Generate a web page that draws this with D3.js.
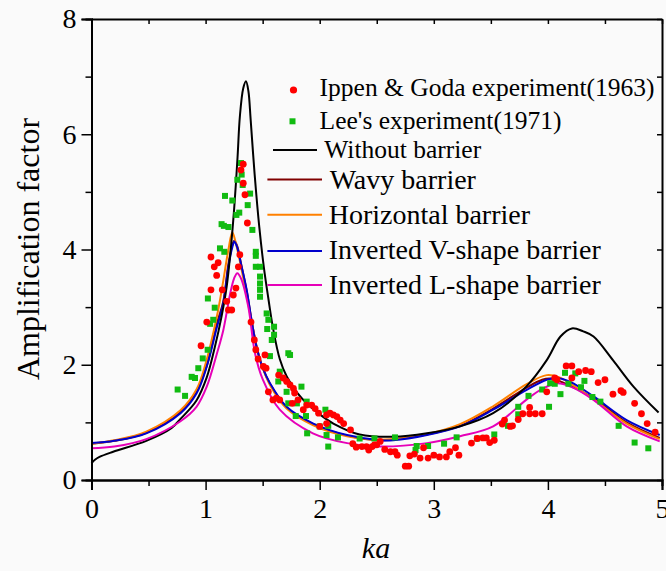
<!DOCTYPE html>
<html>
<head>
<meta charset="utf-8">
<script src="https://cdn.jsdelivr.net/npm/d3@7"></script>
<style>
  body { margin: 0; background: #fafafa; }
  svg { display: block; font-family: "Liberation Serif", "Times New Roman", serif; }
</style>
</head>
<body>
<div id="chart"></div>
<script>
// ---- data ----
var xTicks = [0, 1, 2, 3, 4, 5]
var yTicks = [0, 2, 4, 6, 8]

var noneKa = [0, 0.03, 0.07, 0.19, 0.48, 0.70, 0.78, 0.92, 1.01, 1.08, 1.14, 1.185, 1.22, 1.25, 1.28, 1.30, 1.33, 1.354, 1.375, 1.395, 1.43, 1.47, 1.51, 1.55, 1.594, 1.65, 1.71, 1.80, 1.886, 2.0, 2.12, 2.35, 2.645, 2.94, 3.23, 3.52, 3.81, 3.99, 4.11, 4.21, 4.31, 4.40, 4.57, 4.75, 4.97]
var noneA  = [0.29, 0.35, 0.40, 0.49, 0.68, 0.90, 1.06, 1.38, 1.78, 2.30, 2.84, 3.36, 4.00, 4.70, 5.60, 6.30, 6.80, 6.92, 6.75, 6.25, 5.30, 4.40, 3.70, 3.15, 2.60, 2.10, 1.80, 1.52, 1.33, 1.14, 0.98, 0.79, 0.75, 0.81, 0.93, 1.16, 1.62, 2.08, 2.49, 2.63, 2.58, 2.49, 2.08, 1.62, 1.17]

var wavyKa = [0, 0.2, 0.48, 0.78, 0.92, 1.01, 1.10, 1.155, 1.2, 1.235, 1.25, 1.275, 1.31, 1.36, 1.404, 1.448, 1.5, 1.564, 1.71, 1.944, 2.24, 2.53, 2.94, 3.23, 3.52, 3.81, 3.95, 4.02, 4.12, 4.40, 4.69, 4.98]
var wavyA  = [0.63, 0.68, 0.82, 1.18, 1.53, 1.98, 2.72, 3.10, 3.75, 4.08, 4.15, 4.07, 3.76, 3.28, 2.76, 2.30, 1.95, 1.67, 1.26, 0.97, 0.77, 0.69, 0.79, 0.94, 1.24, 1.60, 1.74, 1.76, 1.70, 1.42, 1.00, 0.73]

var horizKa = [0, 0.2, 0.48, 0.78, 0.92, 1.0, 1.1, 1.15, 1.2, 1.234, 1.26, 1.3, 1.35, 1.4, 1.45, 1.5, 1.564, 1.71, 1.944, 2.24, 2.53, 2.94, 3.23, 3.52, 3.81, 3.99, 4.1, 4.4, 4.69, 4.98]
var horizA  = [0.63, 0.69, 0.84, 1.21, 1.57, 2.02, 2.85, 3.40, 4.00, 4.30, 4.15, 3.80, 3.30, 2.78, 2.30, 1.95, 1.65, 1.24, 0.95, 0.76, 0.70, 0.80, 0.97, 1.28, 1.66, 1.82, 1.78, 1.40, 0.98, 0.71]

var vKa = [0, 0.2, 0.48, 0.78, 0.92, 1.01, 1.10, 1.155, 1.2, 1.235, 1.252, 1.275, 1.31, 1.36, 1.404, 1.448, 1.5, 1.564, 1.71, 1.944, 2.24, 2.53, 2.645, 2.94, 3.23, 3.52, 3.81, 3.99, 4.08, 4.2, 4.40, 4.69, 4.98]
var vA  = [0.64, 0.68, 0.81, 1.16, 1.50, 1.97, 2.66, 3.07, 3.70, 4.05, 4.14, 4.05, 3.75, 3.30, 2.75, 2.30, 1.95, 1.68, 1.27, 0.98, 0.78, 0.69, 0.69, 0.78, 0.93, 1.22, 1.56, 1.74, 1.77, 1.70, 1.45, 1.04, 0.78]

var lKa = [0, 0.2, 0.48, 0.78, 0.92, 1.01, 1.10, 1.155, 1.214, 1.25, 1.278, 1.31, 1.374, 1.433, 1.5, 1.65, 1.94, 2.24, 2.53, 2.94, 3.23, 3.52, 3.81, 3.95, 4.08, 4.2, 4.40, 4.69, 4.98]
var lA  = [0.55, 0.58, 0.71, 1.02, 1.27, 1.62, 2.20, 2.60, 3.22, 3.50, 3.59, 3.50, 3.01, 2.20, 1.75, 1.22, 0.81, 0.64, 0.58, 0.64, 0.76, 0.93, 1.39, 1.58, 1.68, 1.62, 1.39, 0.93, 0.67]

var ippenKa = [1.33, 1.31, 1.33, 1.345, 1.366, 1.30, 1.287, 1.047, 1.11, 1.076, 1.097, 1.047, 1.146, 1.266, 1.243, 1.185, 1.20, 1.229, 1.01, 1.398, 0.96, 1.427, 1.44, 1.46, 1.52, 1.506, 1.53, 1.55, 1.59, 1.62, 1.64, 1.65, 1.68, 1.71, 1.74, 1.77, 1.78, 1.76, 1.81, 1.856, 1.886, 1.93, 1.96, 1.99, 2.0, 2.06, 2.09, 2.12, 2.15, 2.18, 2.21, 2.06, 2.27, 2.29, 2.32, 2.37, 2.41, 2.46, 2.50, 2.43, 2.48, 2.53, 2.57, 2.62, 2.66, 2.68, 2.75, 2.78, 2.79, 2.83, 2.88, 2.91, 2.95, 3.0, 3.05, 3.11, 3.14, 3.19, 3.22, 3.33, 3.38, 3.43, 3.46, 3.49, 3.53, 3.60, 3.62, 3.67, 3.69, 3.74, 3.78, 3.84, 3.84, 3.89, 3.95, 3.99, 4.06, 4.08, 4.16, 4.21, 4.21, 4.27, 4.33, 4.38, 4.44, 4.50, 4.57, 4.64, 4.66, 4.76, 4.82, 4.87, 4.94]
var ippenA  = [5.48, 5.38, 5.15, 4.95, 4.46, 3.91, 3.70, 3.87, 3.77, 3.70, 3.55, 3.30, 3.30, 3.33, 3.21, 3.10, 2.95, 2.95, 2.74, 2.74, 2.33, 2.43, 2.26, 2.10, 2.17, 1.97, 1.94, 1.53, 1.39, 1.42, 1.82, 1.39, 1.77, 1.71, 1.65, 1.59, 1.51, 1.33, 1.39, 1.22, 1.30, 1.30, 1.24, 1.16, 0.93, 1.13, 1.16, 1.13, 1.10, 1.04, 0.98, 0.98, 0.87, 0.63, 0.57, 0.58, 0.58, 0.58, 0.61, 0.52, 0.61, 0.67, 0.53, 0.49, 0.49, 0.43, 0.24, 0.24, 0.42, 0.45, 0.38, 0.56, 0.38, 0.43, 0.40, 0.40, 0.49, 0.56, 0.43, 0.64, 0.72, 0.73, 0.73, 0.65, 0.69, 0.97, 1.04, 0.93, 0.94, 1.05, 1.15, 1.26, 1.15, 1.15, 1.15, 1.53, 1.77, 1.74, 1.98, 1.98, 1.77, 1.88, 1.90, 1.88, 1.69, 1.74, 1.49, 1.55, 1.52, 1.33, 1.15, 0.98, 0.83]

var leeKa = [1.31, 1.316, 1.278, 1.325, 1.39, 1.17, 1.234, 1.369, 1.295, 1.27, 1.14, 1.16, 1.2, 1.41, 1.126, 1.164, 1.44, 1.44, 1.44, 1.477, 1.477, 1.477, 1.477, 1.477, 1.02, 1.08, 1.067, 1.04, 1.535, 1.55, 1.54, 1.60, 1.60, 1.58, 1.018, 0.975, 0.936, 1.74, 1.564, 0.907, 0.878, 0.82, 0.755, 1.725, 1.65, 1.637, 1.71, 1.84, 1.725, 1.80, 1.886, 1.79, 1.88, 2.05, 2.0, 2.075, 1.89, 2.06, 2.16, 2.075, 2.35, 2.48, 2.66, 2.85, 2.84, 2.95, 3.09, 3.20, 3.38, 3.53, 3.65, 3.74, 3.74, 3.83, 3.95, 4.01, 4.02, 4.06, 4.11, 4.15, 4.18, 4.24, 4.29, 4.32, 4.39, 4.46, 4.62, 4.76, 4.88]
var leeA  = [5.50, 5.30, 5.21, 5.12, 4.97, 4.93, 4.85, 4.77, 4.64, 4.60, 4.44, 4.41, 4.39, 4.34, 4.02, 3.96, 3.96, 3.89, 3.70, 3.70, 3.53, 3.41, 3.30, 3.18, 3.15, 2.99, 2.78, 2.71, 2.89, 2.78, 2.62, 2.66, 2.52, 2.43, 2.26, 2.11, 1.94, 2.17, 2.15, 1.77, 1.79, 1.46, 1.57, 2.20, 1.88, 1.71, 1.53, 1.62, 1.33, 1.33, 1.36, 1.11, 1.11, 1.22, 0.93, 0.94, 0.81, 0.78, 0.74, 0.58, 0.72, 0.72, 0.74, 0.59, 0.52, 0.59, 0.63, 0.74, 0.72, 0.79, 0.94, 1.27, 1.14, 1.46, 1.57, 1.27, 1.68, 1.67, 1.49, 1.86, 1.67, 1.85, 1.61, 1.72, 1.44, 1.36, 0.94, 0.65, 0.55]

var lineNames = ["Without barrier", "Wavy barrier", "Horizontal barrier", "Inverted V-shape barrier", "Inverted L-shape barrier"]
var lineColors = ["#000000", "#800000", "#ff8000", "#0000cc", "#e600b8"]
var pointNames = ["Ippen & Goda experiment(1963)", "Lee's experiment(1971)"]

// ---- layout ----
var width = 666, height = 571
var margin = {left: 91.5, right: 4, top: 19, bottom: 91}
var iw = width - margin.left - margin.right
var ih = height - margin.top - margin.bottom

var svg = d3.select("#chart").append("svg")
  .attr("width", width)
  .attr("height", height)

var g = svg.append("g")
  .attr("transform", "translate(" + margin.left + "," + margin.top + ")")

var x = d3.scaleLinear().domain([0, 5]).range([0, iw])
var y = d3.scaleLinear().domain([0, 8]).range([ih, 0])

function zip(a, b) { return a.map(function(v, i) { return [v, b[i]] }) }

var curves = [zip(noneKa, noneA), zip(wavyKa, wavyA), zip(horizKa, horizA), zip(vKa, vA), zip(lKa, lA)]

var line = d3.line()
  .x(function(d) { return x(d[0]) })
  .y(function(d) { return y(d[1]) })
  .curve(d3.curveCatmullRom.alpha(0.5))

// draw order: wavy, horizontal, blue, black, magenta
var order = [1, 2, 3, 0, 4]
order.forEach(function(i) {
  g.append("path")
    .datum(curves[i])
    .attr("d", line)
    .attr("fill", "none")
    .attr("stroke", lineColors[i])
    .attr("stroke-width", 2)
})

// scatter
g.selectAll("rect.lee")
  .data(zip(leeKa, leeA))
  .enter().append("rect")
  .attr("class", "lee")
  .attr("x", function(d) { return x(d[0]) - 3 })
  .attr("y", function(d) { return y(d[1]) - 3 })
  .attr("width", 6).attr("height", 6)
  .attr("fill", "#11bb11")

g.selectAll("circle.ippen")
  .data(zip(ippenKa, ippenA))
  .enter().append("circle")
  .attr("class", "ippen")
  .attr("cx", function(d) { return x(d[0]) })
  .attr("cy", function(d) { return y(d[1]) })
  .attr("r", 3.4)
  .attr("fill", "#ff0000")

// ---- axes ----
function styleAxis(sel) {
  sel.select(".domain").attr("stroke", "#000").attr("stroke-width", 2)
  sel.selectAll(".tick line").attr("stroke", "#000").attr("stroke-width", 1.5)
  sel.selectAll(".tick text").attr("fill", "#000").style("font-size", "28px")
    .style("font-family", "Liberation Serif, Times New Roman, serif")
}

var xMinor = d3.range(0.5, 5, 1)
var yMinor = d3.range(1, 8, 2)

g.append("g").attr("transform", "translate(0," + ih + ")")
  .call(d3.axisBottom(x).tickValues(xMinor).tickSize(6).tickFormat(""))
  .call(styleAxis)
g.append("g").attr("transform", "translate(0," + ih + ")")
  .call(d3.axisBottom(x).tickValues(xTicks).tickSize(10).tickPadding(8).tickFormat(d3.format("d")))
  .call(styleAxis)

g.append("g")
  .call(d3.axisLeft(y).tickValues(yMinor).tickSize(6).tickFormat(""))
  .call(styleAxis)
g.append("g")
  .call(d3.axisLeft(y).tickValues(yTicks).tickSize(10).tickPadding(5).tickFormat(d3.format("d")))
  .call(styleAxis)

g.append("g")
  .call(d3.axisTop(x).tickValues(d3.range(0, 5.01, 0.5)).tickSizeInner(-5).tickSizeOuter(0).tickFormat(""))
  .call(styleAxis)
g.append("g").attr("transform", "translate(" + iw + ",0)")
  .call(d3.axisRight(y).tickValues(d3.range(0, 8.01, 1)).tickSizeInner(-5).tickSizeOuter(0).tickFormat(""))
  .call(styleAxis)

// axis titles
svg.append("text")
  .attr("x", 376).attr("y", 558)
  .attr("text-anchor", "middle")
  .style("font-size", "30px")
  .style("font-style", "italic")
  .text("ka")

svg.append("text")
  .attr("transform", "translate(28,249) rotate(-90)")
  .attr("text-anchor", "middle")
  .attr("dy", "0.35em")
  .style("font-size", "32px")
  .text("Amplification factor")

// ---- legend ----
var lg = svg.append("g")
lg.append("circle").attr("cx", 293.5).attr("cy", 90).attr("r", 3.6).attr("fill", "#ff0000")
lg.append("text").attr("x", 319.6).attr("y", 96).style("font-size", "25.5px").text(pointNames[0])
lg.append("rect").attr("x", 289.5).attr("y", 118.3).attr("width", 6).attr("height", 6).attr("fill", "#11bb11")
lg.append("text").attr("x", 319.6).attr("y", 128.7).style("font-size", "25.5px").text(pointNames[1])

var legRows = [
  {y: 150, x1: 273, x2: 317, tx: 324.3, ty: 158.2, fs: 25.5},
  {y: 179.6, x1: 267.4, x2: 322, tx: 329.7, ty: 189, fs: 28},
  {y: 214.8, x1: 267.4, x2: 322, tx: 328.7, ty: 224, fs: 28},
  {y: 251, x1: 267.4, x2: 322, tx: 328.7, ty: 259.3, fs: 28},
  {y: 285, x1: 267.4, x2: 322, tx: 328.7, ty: 293.5, fs: 28}
]
legRows.forEach(function(r, i) {
  lg.append("line").attr("x1", r.x1).attr("x2", r.x2).attr("y1", r.y).attr("y2", r.y)
    .attr("stroke", lineColors[i]).attr("stroke-width", 2)
  lg.append("text").attr("x", r.tx).attr("y", r.ty).style("font-size", r.fs + "px").text(lineNames[i])
})
</script>
</body>
</html>
